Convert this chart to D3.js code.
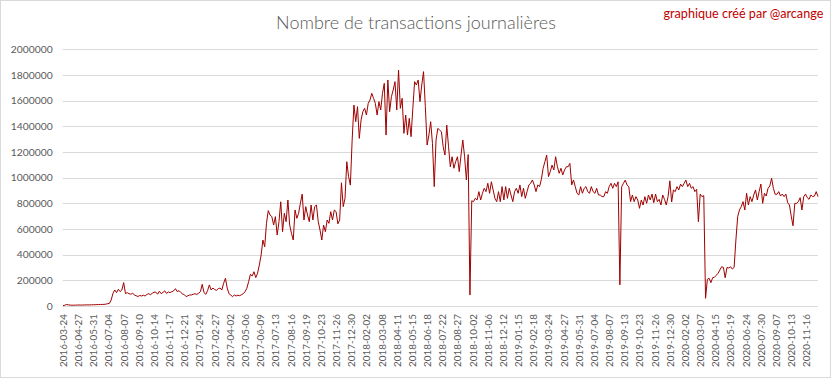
<!DOCTYPE html>
<html><head><meta charset="utf-8">
<script src="https://cdn.jsdelivr.net/npm/d3@7"></script>
<style>
body{margin:0;background:#fff}
text{font-family:Lato,"Liberation Sans",sans-serif}
</style>
</head><body>
<svg id="c" width="833" height="379"></svg>
<script>
const titleText = "Nombre de transactions journalières";
const creditText = "graphique créé par @arcange";
const daysPerSample = 4;   // one sample every 4 categories (days)
const labelEvery = 34;     // one axis label every 34 categories
const xLabels = ["2016-03-24","2016-04-27","2016-05-31","2016-07-04","2016-08-07","2016-09-10","2016-10-14","2016-11-17","2016-12-21","2017-01-24","2017-02-27","2017-04-02","2017-05-06","2017-06-09","2017-07-13","2017-08-16","2017-09-19","2017-10-23","2017-11-26","2017-12-30","2018-02-02","2018-03-08","2018-04-11","2018-05-15","2018-06-18","2018-07-22","2018-08-27","2018-10-02","2018-11-06","2018-12-12","2019-01-15","2019-02-18","2019-03-24","2019-04-27","2019-05-31","2019-07-04","2019-08-07","2019-09-13","2019-10-23","2019-11-26","2019-12-30","2020-02-02","2020-03-07","2020-04-15","2020-05-19","2020-06-24","2020-07-30","2020-09-07","2020-10-13","2020-11-16"];
const yTickValues = [0,200000,400000,600000,800000,1000000,1200000,1400000,1600000,1800000,2000000];
// daily transactions, in thousands
const tx2016 = [3,6,12,9,7,6,6,7,7,8,7,8,8,9,8,9,9,10,10,11,11,12,12,13,14,18,
20,47,99,125,104,130,112,125,182,97,104,96,92,99,86,80,74,82,78,84,78,90,96,88,99,108,108,92,115,96,106,118,98,110,104,112,118,135,112,120,105,94,88,73,80];
const tx2017 = [86,86,92,96,90,100,112,169,104,91,
120,164,125,140,128,122,135,140,125,177,
216,140,96,85,73,86,78,84,80,88,
96,112,138,190,247,234,267,221,255,319,
397,514,462,644,743,709,696,631,696,553,
657,812,579,722,657,826,631,566,514,748,
683,722,800,872,670,774,709,657,787,670,
774,787,657,592,514,631,579,670,644,735,
670,748,735,640,670,960,774,839,1124,1008,
942];
const tx2018 = [1293,1566,1436,1553,1306,1449,1514,1540,1488,
1579,1605,1657,1618,1579,1488,1592,1527,1657,1735,
1332,1761,1514,1631,1683,1748,1527,1838,1540,1618,
1345,1488,1332,1462,1319,1540,1748,1722,1761,1592,
1722,1826,1553,1254,1332,1436,1267,930,1293,1384,
1371,1358,1241,1176,1410,1241,1085,1163,1073,1124,
1163,1047,1176,1293,1163,982,1180,86,820,813,
839,826,891,826,878,917,891,956,878,968,
904,839,813,891,813,930,826,930,839,917,
865,813,891,917,878,943,852,917,839];
const tx2019 = [891,943,956,982,943,891,943,930,987,1073,1124,
1176,1008,1047,1098,1060,1163,1085,1034,1073,1021,
1060,1085,1085,1111,943,982,930,878,865,930,
878,917,930,891,878,930,891,878,917,865,
865,852,852,891,878,930,956,917,956,930,
968,165,930,956,981,943,930,813,865,813,
852,826,761,826,787,852,800,865,826,872,
805,872,813,831,787,865,831,787,852];
const tx2020 = [975,810,904,891,930,904,950,930,956,981,930,
956,917,930,891,909,657,872,852,860,60,
208,216,182,221,224,239,255,280,306,301,
220,300,296,306,288,301,514,696,748,774,
813,748,878,787,852,813,865,904,826,891,
950,800,878,857,917,935,995,917,870,870,
891,857,872,852,872,805,787,700,625,800,
800,813,844,748,852,872,844,831,865,852,
857,891,852];

const samples = [].concat(tx2016, tx2017, tx2018, tx2019, tx2020);
const data = samples.map((v, k) => ({i: k * daysPerSample, v: v * 1000}));
const lastIndex = (samples.length - 1) * daysPerSample;

const svg = d3.select("#c");
const plotL = 62.7, plotR = 817.6, plotT = 49.3, plotB = 306;

svg.append("rect").attr("x",0.5).attr("y",0.5).attr("width",830).attr("height",377)
  .attr("fill","#fff").attr("stroke","#d9d9d9");

const x = d3.scaleLinear().domain([0, lastIndex]).range([63, 818]);
const y = d3.scaleLinear().domain([0, 2000000]).range([plotB, plotT]);

// gridlines
svg.append("g").selectAll("line").data(yTickValues).join("line")
  .attr("x1", plotL).attr("x2", plotR)
  .attr("y1", d => Math.round(y(d)) + 0.5).attr("y2", d => Math.round(y(d)) + 0.5)
  .attr("stroke", "#d9d9d9").attr("stroke-width", 1);

// y axis
const gy = svg.append("g").attr("transform", `translate(${plotL},0)`)
  .call(d3.axisLeft(y).tickValues(yTickValues).tickSize(0).tickPadding(10).tickFormat(d3.format("d")));
gy.select(".domain").remove();
gy.selectAll("text").attr("fill", "#595959").style("font-size","10px");
{
  const t = gy.selectAll("text").filter(d => d === 2000000);
  const w = t.node().getComputedTextLength();
  gy.selectAll("text").style("font-size", (10 * 42 / w) + "px");
}

// x axis
const tickIdx = xLabels.map((_, j) => j * labelEvery);
const gx = svg.append("g").attr("transform", `translate(0,${plotB})`)
  .call(d3.axisBottom(x).tickValues(tickIdx).tickSize(0).tickFormat((d, j) => xLabels[j]));
gx.select(".domain").remove();
gx.selectAll("text")
  .attr("fill", "#595959").style("font-size","10px")
  .attr("transform", "rotate(-90)").attr("text-anchor", "end")
  .attr("x", -8).attr("y", 0).attr("dy", "0.35em");
{
  const w = gx.select("text").node().getComputedTextLength();
  gx.selectAll("text").style("font-size", (10 * 53 / w) + "px");
}

// line
svg.append("path").datum(data)
  .attr("fill", "none").attr("stroke", "#a00000").attr("stroke-width", 1)
  .attr("stroke-linejoin", "round")
  .attr("d", d3.line().x(d => x(d.i)).y(d => y(d.v)));

// title
const tt = svg.append("text").attr("x", 416).attr("y", 29.3).attr("text-anchor","middle")
  .attr("fill", "#595959").style("font-size","18px").style("font-weight","300").text(titleText);
tt.style("font-size", (18 * 280 / tt.node().getComputedTextLength()) + "px");

const ct = svg.append("text").attr("x", 823.3).attr("y", 18.3).attr("text-anchor","end")
  .attr("fill", "#c00000").style("font-size","13px").text(creditText);
ct.style("font-size", (13 * 160 / ct.node().getComputedTextLength()) + "px");
</script>
</body></html>
